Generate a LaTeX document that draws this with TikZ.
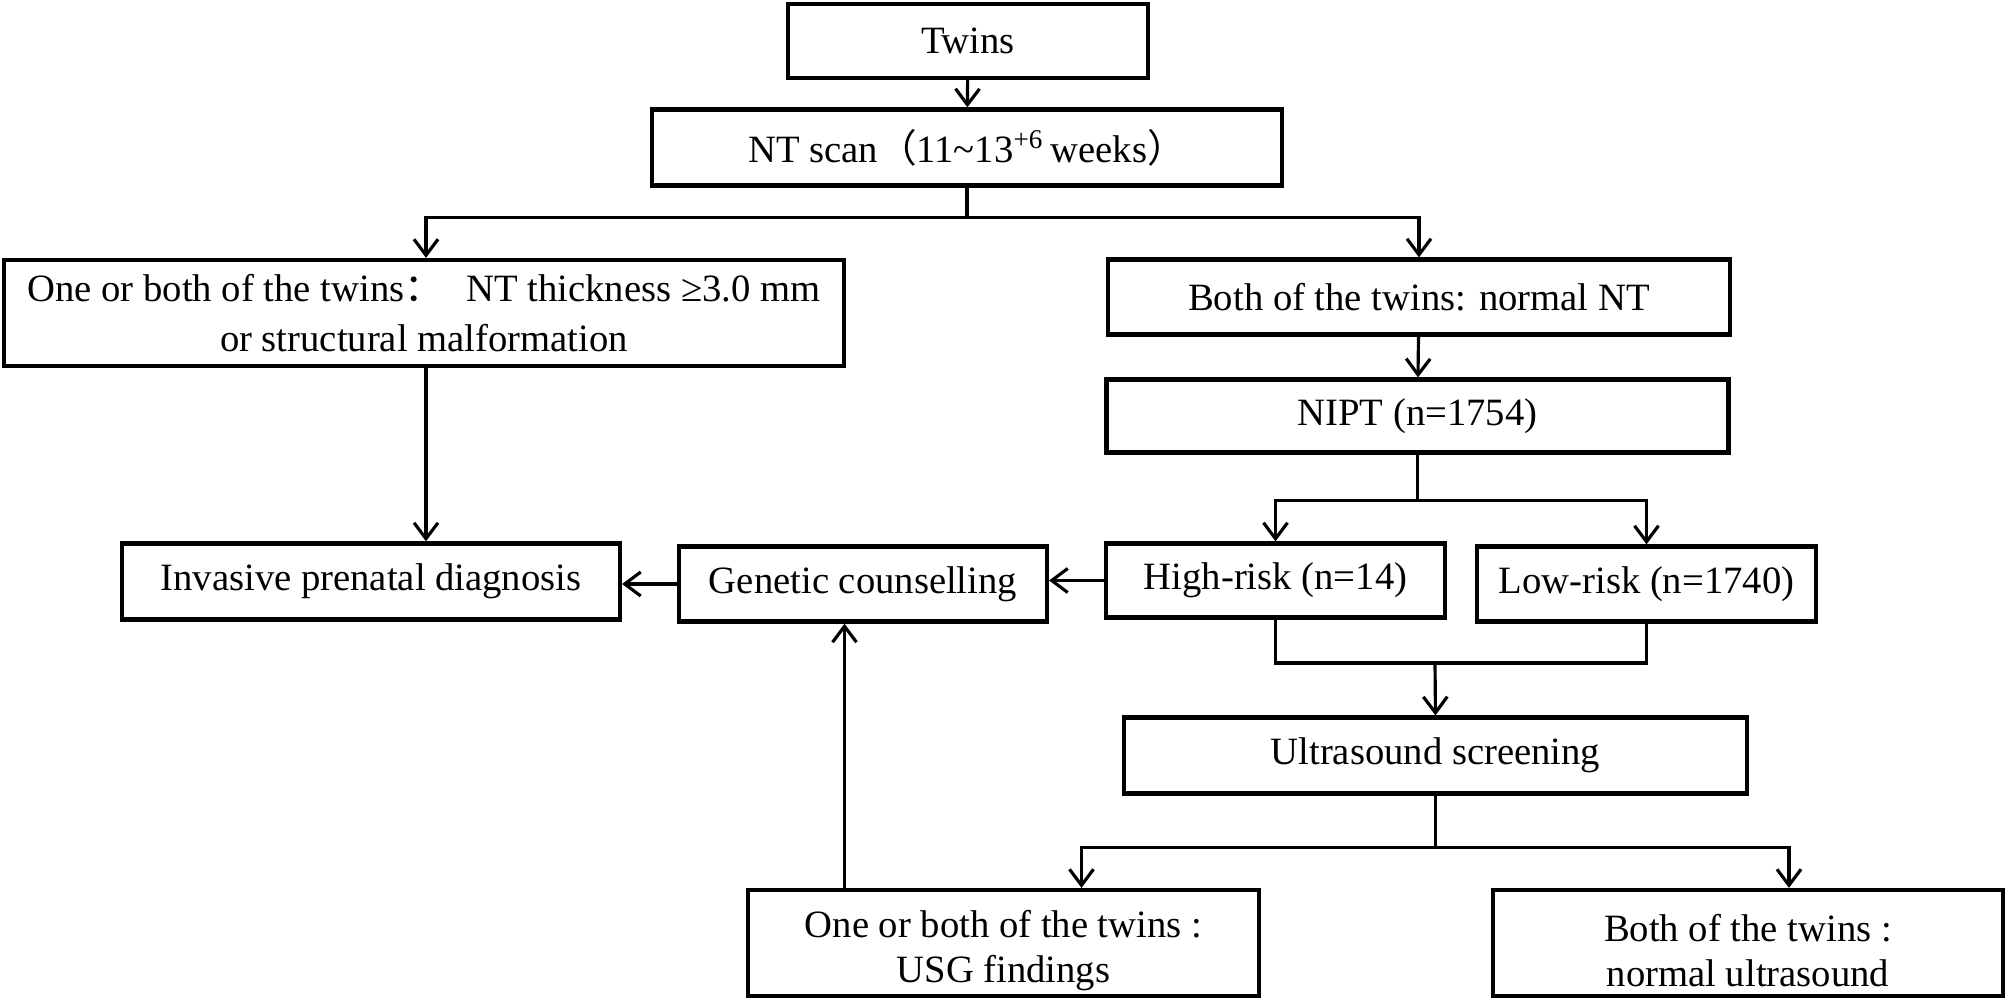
\documentclass[tikz,border=0pt]{standalone}
\usepackage{fontspec}
\setmainfont{Liberation Serif}
\newfontfamily\cjk{Noto Sans CJK SC}
\usepackage{tikz}
\usetikzlibrary{arrows.meta}
\tikzset{
  box/.style={draw, line width=1.2pt, inner sep=2pt, align=center,
    font=\fontsize{11}{14}\selectfont},
  line/.style={line width=0.9pt},
  arr/.style={line width=0.9pt, -{Straight Barb[length=1.6mm,width=2.4mm,line width=0.9pt]}}
}

\begin{document}
\begin{tikzpicture}
              \useasboundingbox (0,0) rectangle (20.08,-10);

              % First steps: twins and NT scan
              \node[box, minimum width=3.6cm, minimum height=0.74cm] (twins) at (9.68,-0.41) {Twins};
              \node[box, minimum width=6.3cm, minimum height=0.76cm] (nt) at (9.67,-1.475)
                {NT scan{\cjk （}11\textasciitilde 13\textsuperscript{+6}\,weeks{\cjk ）}};

              % NT results
              \node[box, minimum width=8.4cm, minimum height=1.06cm] (thick) at (4.24,-3.13)
                {One or both of the twins{\cjk ：}\hspace{0.6em}NT thickness ≥3.0 mm\\or structural malformation};
              \node[box, minimum width=6.22cm, minimum height=0.75cm] (normalnt) at (14.19,-2.97)
                {Both of the twins: normal NT};
              \node[box, minimum width=6.22cm, minimum height=0.73cm] (nipt) at (14.175,-4.16) {NIPT (n=1754)};

              % Middle row
              \node[box, minimum width=4.98cm, minimum height=0.76cm] (invasive) at (3.71,-5.815)
                {Invasive prenatal diagnosis};
              \node[box, minimum width=3.68cm, minimum height=0.75cm] (counsel) at (8.63,-5.84)
                {Genetic counselling};
              \node[box, minimum width=3.39cm, minimum height=0.74cm] (high) at (12.755,-5.805)
                {High-risk (n=14)};
              \node[box, minimum width=3.39cm, minimum height=0.75cm] (low) at (16.465,-5.84)
                {Low-risk (n=1740)};

              % Ultrasound and its results
              \node[box, minimum width=6.23cm, minimum height=0.76cm] (usound) at (14.355,-7.555)
                {Ultrasound screening};
              \node[box, inner ysep=0pt, minimum width=5.11cm, minimum height=1.06cm] (usg) at (10.035,-9.43)
                {\rule{0pt}{12pt}One or both of the twins :\\[-1pt]USG findings};
              \node[box, inner ysep=0pt, minimum width=5.1cm, minimum height=1.06cm] (normalus) at (17.48,-9.43)
                {\rule{0pt}{12pt}Both of the twins :\\[-1pt]normal ultrasound};
              \coordinate (join) at (14.35,-6.63);

              % Connectors
              \draw[arr] (twins) -- (nt);
              \draw[arr] (nt.south) -- ++(0,-0.3) -| ([xshift=0.2mm]thick.north);
              \draw[arr] (nt.south) -- ++(0,-0.3) -| (normalnt.north);
              \draw[arr] ([xshift=0.2mm]thick.south) -- ([xshift=0.2mm]thick.south |- invasive.north);
              \draw[arr] (normalnt) -- (nipt);
              \draw[arr] (nipt.south) -- ++(0,-0.46) -| (high.north);
              \draw[arr] (nipt.south) -- ++(0,-0.46) -| (low.north);
              \draw[line] (high.south) |- (join) -| (low.south);
              \draw[arr] (join) -- (usound.north);
              \draw[arr] (usound.south) -- ++(0,-0.52) -| ([xshift=7.8mm]usg.north);
              \draw[arr] (usound.south) -- ++(0,-0.52) -| ([xshift=4.1mm]normalus.north);
              \draw[arr] ([xshift=-15.9mm]usg.north) -- ([xshift=-15.9mm]usg.north |- counsel.south);
              \draw[arr] (high.west) -- (high.west -| counsel.east);
              \draw[arr] (counsel.west) -- (counsel.west -| invasive.east);
            \end{tikzpicture}
\end{document}
